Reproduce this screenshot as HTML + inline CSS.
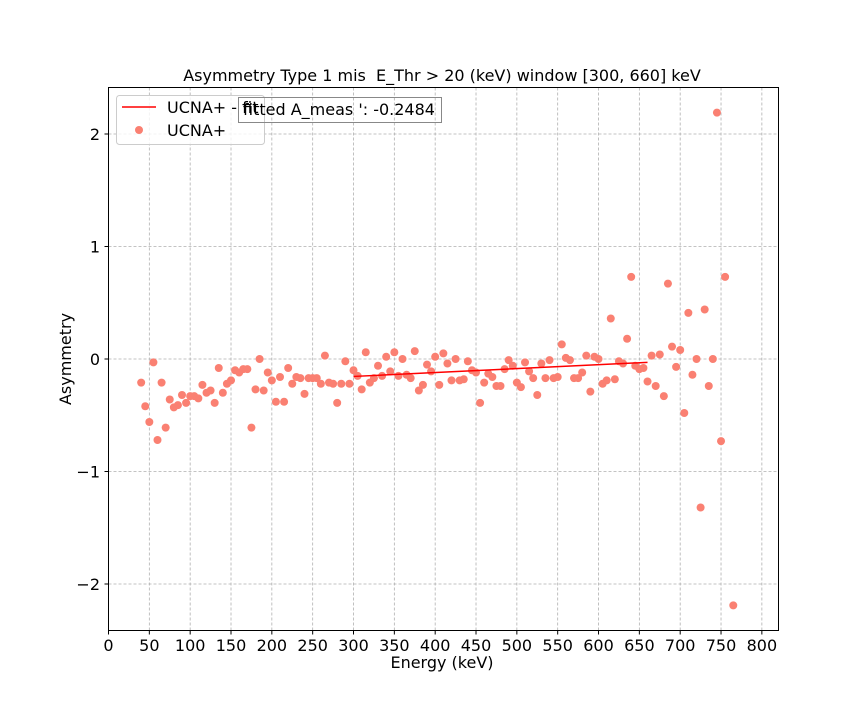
<!DOCTYPE html>
<html><head><meta charset="utf-8"><style>
body{margin:0;background:#fff;}
svg text{font-family:"DejaVu Sans","Liberation Sans",sans-serif;fill:#000;}
</style></head><body>
<svg id="chart" width="864" height="720" xmlns="http://www.w3.org/2000/svg">
<rect width="864" height="720" fill="#fff"/>
<text x="442" y="81" font-size="16" text-anchor="middle">Asymmetry Type 1 mis&#160; E_Thr &gt; 20 (keV) window [300, 660] keV</text>
<g id="grid"></g><g id="ticks"></g><g id="marks"></g>
<rect x="108.5" y="87.5" width="670" height="543" fill="none" stroke="#000" stroke-width="1"/>
<text x="442" y="668" font-size="16" text-anchor="middle">Energy (keV)</text>
<text transform="translate(71,359) rotate(-90)" font-size="16" text-anchor="middle">Asymmetry</text>
<g>
<rect x="116.5" y="95.5" width="148" height="49" rx="3" fill="#fff" fill-opacity="0.8" stroke="#ccc"/>
<line x1="122" y1="107" x2="156" y2="107" stroke="#ff0000" stroke-width="1.5"/>
<text x="167" y="113" font-size="16">UCNA+ - fit</text>
<circle cx="139" cy="130" r="4" fill="#fa8072"/>
<text x="167" y="136" font-size="16">UCNA+</text>
</g>
<g>
<rect x="238.5" y="97.5" width="203" height="25" fill="none" stroke="#888"/>
<text x="243" y="115" font-size="16">fitted A_meas ': -0.2484</text>
</g>
</svg>
<script>
const energies=[40,45,50,55,60,65,70,75,80,85,90,95,100,105,110,115,120,125,130,135,140,145,150,155,160,165,170,175,180,185,190,195,200,205,210,215,220,225,230,235,240,245,250,255,260,265,270,275,280,285,290,295,300,305,310,315,320,325,330,335,340,345,350,355,360,365,370,375,380,385,390,395,400,405,410,415,420,425,430,435,440,445,450,455,460,465,470,475,480,485,490,495,500,505,510,515,520,525,530,535,540,545,550,555,560,565,570,575,580,585,590,595,600,605,610,615,620,625,630,635,640,645,650,655,660,665,670,675,680,685,690,695,700,705,710,715,720,725,730,735,740,745,750,755,765];
const asym=[-0.21,-0.42,-0.56,-0.03,-0.72,-0.21,-0.61,-0.36,-0.43,-0.41,-0.32,-0.39,-0.33,-0.33,-0.35,-0.23,-0.30,-0.28,-0.39,-0.08,-0.30,-0.22,-0.19,-0.10,-0.12,-0.09,-0.09,-0.61,-0.27,0.00,-0.28,-0.12,-0.19,-0.38,-0.16,-0.38,-0.08,-0.22,-0.16,-0.17,-0.31,-0.17,-0.17,-0.17,-0.22,0.03,-0.21,-0.22,-0.39,-0.22,-0.02,-0.22,-0.10,-0.15,-0.27,0.06,-0.21,-0.17,-0.06,-0.15,0.02,-0.11,0.06,-0.15,0.00,-0.14,-0.17,0.07,-0.28,-0.23,-0.05,-0.11,0.02,-0.23,0.05,-0.04,-0.19,0.00,-0.19,-0.18,-0.02,-0.10,-0.12,-0.39,-0.21,-0.13,-0.16,-0.24,-0.24,-0.09,-0.01,-0.06,-0.21,-0.25,-0.03,-0.11,-0.17,-0.32,-0.04,-0.17,-0.01,-0.17,-0.16,0.13,0.01,-0.01,-0.17,-0.17,-0.12,0.03,-0.29,0.02,0.00,-0.22,-0.19,0.36,-0.18,-0.02,-0.04,0.18,0.73,-0.06,-0.09,-0.08,-0.20,0.03,-0.24,0.04,-0.33,0.67,0.11,-0.07,0.08,-0.48,0.41,-0.14,0.00,-1.32,0.44,-0.24,0.00,2.19,-0.73,0.73,-2.19];
const fitX=[300,660];
const fitY=[-0.155,-0.03];
const xTicks=[0,50,100,150,200,250,300,350,400,450,500,550,600,650,700,750,800];
const yTicks=[-2,-1,0,1,2];
const sx=v=>108.5+v*0.8167;
const sy=v=>359-v*112.5;
const NS="http://www.w3.org/2000/svg";
function mk(tag,attrs,parent){const e=document.createElementNS(NS,tag);for(const k in attrs)e.setAttribute(k,attrs[k]);parent.appendChild(e);return e;}
const grid=document.getElementById('grid'),ticks=document.getElementById('ticks'),marks=document.getElementById('marks');
xTicks.forEach(t=>{
  const g=mk('line',{x1:sx(t),x2:sx(t),y1:87.5,y2:630.5,stroke:'#b0b0b0','stroke-dasharray':'3,2','stroke-width':0.8},grid);
  
  
  mk('line',{x1:sx(t),x2:sx(t),y1:630.5,y2:634.5,stroke:'#000'},ticks);
  const l=mk('text',{x:sx(t),y:651,'font-size':16,'text-anchor':'middle'},ticks);
  l.textContent=t;
  
  
});
yTicks.forEach(t=>{
  const g=mk('line',{x1:108.5,x2:778.5,y1:sy(t),y2:sy(t),stroke:'#b0b0b0','stroke-dasharray':'3,2','stroke-width':0.8},grid);
  
  
  mk('line',{x1:104.5,x2:108.5,y1:sy(t),y2:sy(t),stroke:'#000'},ticks);
  const l=mk('text',{x:100,y:sy(t)+6,'font-size':16,'text-anchor':'end'},ticks);
  l.textContent=(t<0?'\u2212'+(-t):t);
  
  
});
energies.forEach((e,i)=>{
  const c=mk('circle',{cx:sx(e),cy:sy(asym[i]),r:4,fill:'#fa8072'},marks);
  
  
});
const fl=mk('line',{x1:sx(fitX[0]),y1:sy(fitY[0]),x2:sx(fitX[1]),y2:sy(fitY[1]),stroke:'#ff0000','stroke-width':1.5},marks);


</script>
</body></html>
